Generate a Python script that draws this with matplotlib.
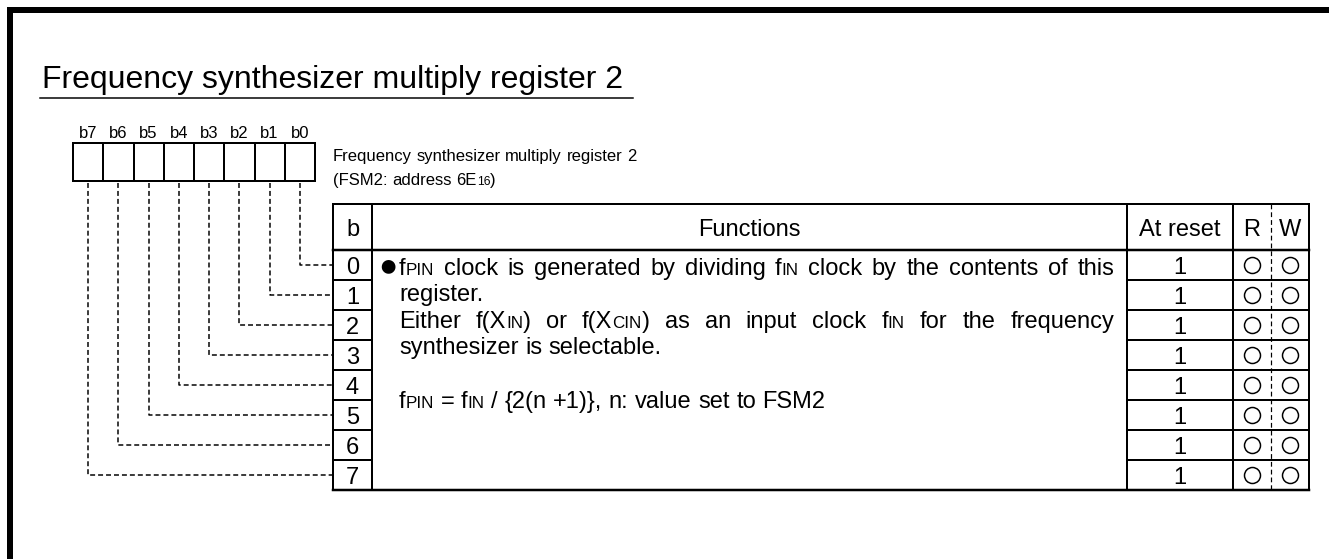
import matplotlib
matplotlib.use("Agg")
import matplotlib.pyplot as plt

plt.rcParams['font.family'] = ['Liberation Sans', 'DejaVu Sans']

# ---- 数据 ----
title = "Frequency synthesizer multiply register 2"
reg_name = "Frequency synthesizer multiply register 2"
reg_addr = "(FSM2: address 6E|16|)"          # |...| = 小号字
bit_labels = ['b7', 'b6', 'b5', 'b4', 'b3', 'b2', 'b1', 'b0']
row_bits = ['0', '1', '2', '3', '4', '5', '6', '7']
at_reset = ['1', '1', '1', '1', '1', '1', '1', '1']
r_flags = [1, 1, 1, 1, 1, 1, 1, 1]
w_flags = [1, 1, 1, 1, 1, 1, 1, 1]
headers = ['b', 'Functions', 'At reset', 'R', 'W']
# (文字, 是否两端对齐)
func_lines = [
    ("f|PIN| clock is generated by dividing f|IN| clock by the contents of this", True),
    ("register.", False),
    ("Either f(X|IN|) or f(X|CIN|) as an input clock f|IN| for the frequency", True),
    ("synthesizer is selectable.", False),
]
formula = "f|PIN| = f|IN| / {2(n +1)}, n: value set to FSM2"

# ---- 画布 (像素坐标) ----
W, H = 1329, 559
fig = plt.figure(figsize=(W / 100, H / 100), dpi=100)
ax = fig.add_axes([0, 0, 1, 1])
ax.set_xlim(0, W)
ax.set_ylim(H, 0)
ax.axis('off')
rend = fig.canvas.get_renderer()

PX = 0.72  # 1 px in points
FS = 17    # 正文字号


def parse(s):
    """拆成单词, 每个单词是 [(text, small), ...]"""
    words, cur = [], []
    for i, part in enumerate(s.split('|')):
        small = i % 2 == 1
        for c in part:
            if c == ' ' and not small:
                if cur:
                    words.append(cur)
                cur = []
                continue
            if cur and cur[-1][1] == small:
                cur[-1] = (cur[-1][0] + c, small)
            else:
                cur.append((c, small))
    if cur:
        words.append(cur)
    return words


def put_line(s, x0, y, fs, right=None):
    words = parse(s)
    objs, widths = [], []
    for w in words:
        ts, x = [], 0
        for txt, small in w:
            t = ax.text(0, y, txt, fontsize=fs * 0.72 if small else fs,
                        va='baseline', ha='left')
            ts.append((t, x))
            x += t.get_window_extent(rend).width
        objs.append(ts)
        widths.append(x)
    gap = fs / PX * 0.278
    if right is not None and len(words) > 1:
        gap = (right - x0 - sum(widths)) / (len(words) - 1)
    x = x0
    for ts, w in zip(objs, widths):
        for t, dx in ts:
            t.set_x(x + dx)
        x += w + gap


def line(xs, ys, lw=2.0, ls='-'):
    ax.plot(xs, ys, color='black', lw=lw * PX, ls=ls,
            solid_capstyle='projecting', dash_capstyle='butt')


# 外框
ax.plot([10, 10, W], [H, 10, 10], color='black', lw=6 * PX,
        solid_joinstyle='miter', solid_capstyle='butt')

# 标题
ax.text(42, 88, title, fontsize=23, va='baseline', ha='left')
line([40, 633], [97.5, 97.5], lw=1.5)

# 寄存器格子
bx0, bx1, by0, by1 = 73, 315, 143, 181
cw = (bx1 - bx0) / len(bit_labels)
for i, lab in enumerate(bit_labels):
    ax.text(bx0 + cw * (i + 0.5), 138, lab, fontsize=12, ha='center', va='baseline')
for i in range(len(bit_labels) + 1):
    line([bx0 + cw * i] * 2, [by0, by1], lw=2)
line([bx0, bx1], [by0, by0], lw=2)
line([bx0, bx1], [by1, by1], lw=2)

# 说明
put_line(reg_name, 333, 161, 12)
put_line(reg_addr, 333, 185, 12)

# 表格
tx = [333, 372, 1127, 1233, 1271, 1309]
ty0, yh, rh = 204, 250, 30
ty1 = yh + rh * len(row_bits)
for x in [tx[0], tx[1], tx[2], tx[3], tx[5]]:
    line([x, x], [ty0, ty1], lw=2)
line([tx[4], tx[4]], [ty0, ty1], lw=1.2, ls=(0, (4, 2.5)))
line([tx[0], tx[5]], [ty0, ty0], lw=2)
line([tx[0], tx[5]], [yh, yh], lw=2.5)
line([tx[0], tx[5]], [ty1, ty1], lw=2.5)
for k in range(1, len(row_bits)):
    y = yh + rh * k
    line([tx[0], tx[1]], [y, y], lw=2)
    line([tx[2], tx[5]], [y, y], lw=2)

hx = [(tx[0] + tx[1]) / 2, (tx[1] + tx[2]) / 2, (tx[2] + tx[3]) / 2,
      (tx[3] + tx[4]) / 2, (tx[4] + tx[5]) / 2]
for x, h in zip(hx, headers):
    ax.text(x, 236, h, fontsize=FS, ha='center', va='baseline')

for k, (b, rv, rf, wf) in enumerate(zip(row_bits, at_reset, r_flags, w_flags)):
    yc = yh + rh * (k + 0.5)
    ax.text(hx[0], yc + 8.5, b, fontsize=FS, ha='center', va='baseline')
    ax.text(hx[2], yc + 8.5, rv, fontsize=FS, ha='center', va='baseline')
    if rf:
        ax.plot(hx[3], yc, 'o', ms=16 * PX, mfc='none', mec='black', mew=1.5 * PX)
    if wf:
        ax.plot(hx[4], yc, 'o', ms=16 * PX, mfc='none', mec='black', mew=1.5 * PX)
    # 虚线连接
    xc = bx1 - cw * (k + 0.5)
    line([xc, xc, tx[0]], [by1 + 2, yc, yc], lw=1.5, ls=(0, (3.3, 2.0)))

# 功能说明
ax.text(378, 275, '\u25cf', fontsize=23, ha='left', va='baseline')
base = [275, 301, 328, 354]
for (s, just), y in zip(func_lines, base):
    put_line(s, 399, y, FS, right=1114 if just else None)
put_line(formula, 399, 408, FS)

fig.savefig('out.png', dpi=100)
